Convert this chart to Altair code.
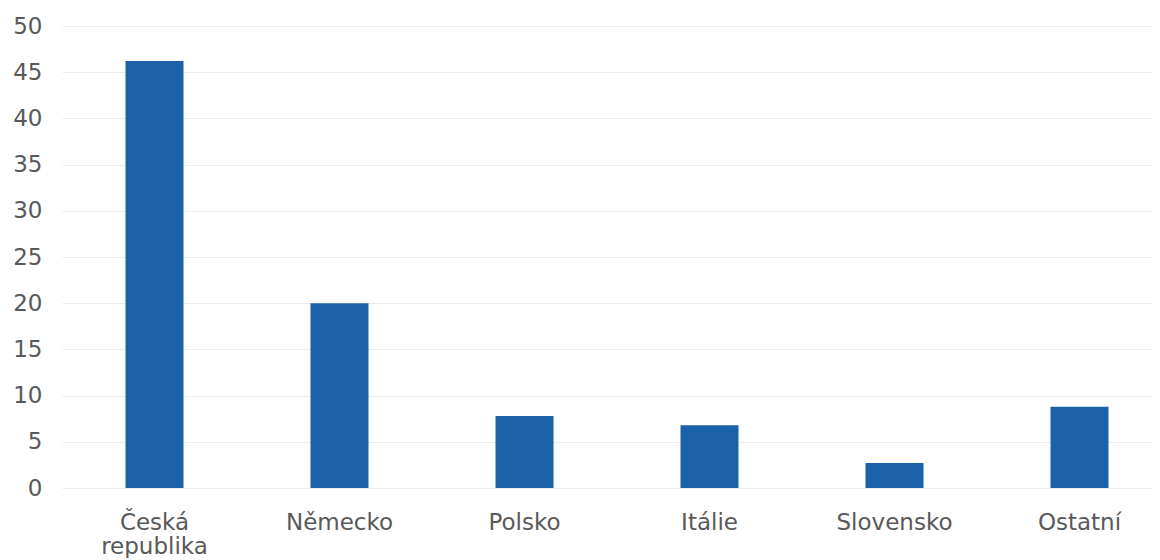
import altair as alt
import pandas as pd

categories = ["Česká republika", "Německo", "Polsko", "Itálie", "Slovensko", "Ostatní"]
values = [46.2, 20.0, 7.8, 6.8, 2.7, 8.8]
y_ticks = [0, 5, 10, 15, 20, 25, 30, 35, 40, 45, 50]

df = pd.DataFrame({"kategorie": categories, "hodnota": values})

chart = (
    alt.Chart(df)
    .mark_bar(color="#1b62ab", size=58)
    .encode(
        x=alt.X(
            "kategorie:N",
            sort=categories,
            scale=alt.Scale(range=[0, 1110], paddingInner=0, paddingOuter=0),
            axis=alt.Axis(
                title=None,
                labelAngle=0,
                labelFont="DejaVu Sans",
                labelFontSize=23,
                labelColor="#595959",
                labelPadding=23,
                labelLineHeight=24,
                labelExpr="split(datum.label, ' ')",
                domain=False,
                ticks=False,
                grid=False,
            ),
        ),
        y=alt.Y(
            "hodnota:Q",
            scale=alt.Scale(domain=[0, 50], nice=False),
            axis=alt.Axis(
                title=None,
                values=y_ticks,
                labelFont="DejaVu Sans",
                labelFontSize=23,
                labelColor="#595959",
                labelPadding=20,
                domain=False,
                ticks=False,
                grid=True,
                gridColor="#ececec",
                gridWidth=1,
            ),
        ),
    )
    .properties(
        width=1090,
        height=462,
        background="white",
        autosize=alt.AutoSizeParams(type="none"),
        padding={"left": 54, "top": 18, "right": 0, "bottom": 70},
    )
    .configure_view(strokeWidth=0, stroke="transparent")
)

chart.save("out.html", embed_options={"renderer": "svg", "actions": False})
